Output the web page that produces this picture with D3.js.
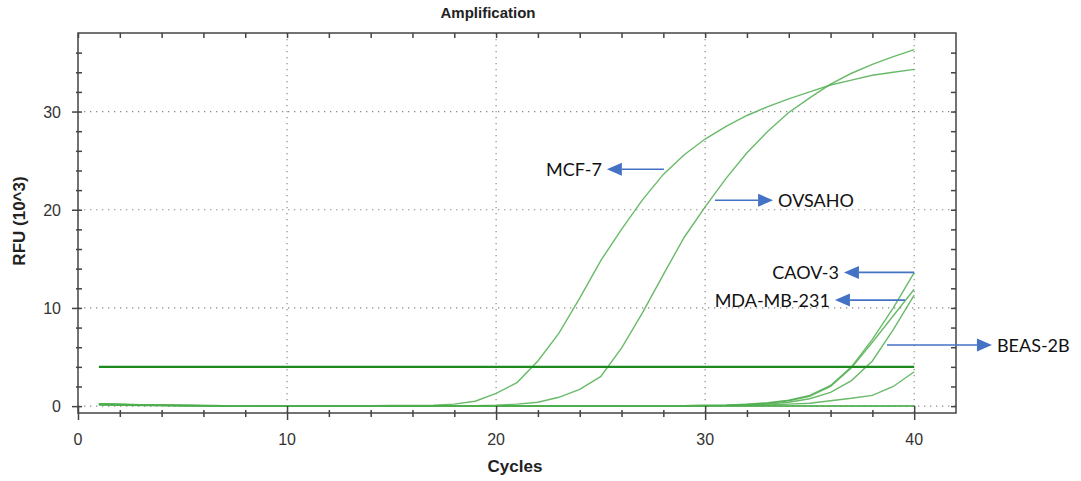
<!DOCTYPE html>
<html>
<head>
<meta charset="utf-8">
<script src="https://cdn.jsdelivr.net/npm/d3@7"></script>
<style>
body { margin: 0; background: #fff; }
text { font-family: "Liberation Sans", Arial, sans-serif; }
text.callout { font-family: Lato, "Open Sans", sans-serif; }
</style>
</head>
<body>
<svg id="chart"></svg>
<script>
// cycle numbers 1..40
let cycles = d3.range(1, 41)

// RFU (10^3) per cycle
let mcf7 = [0.25,0.2,0.15,0.1,0.08,0.06,0.05,0.05,0.04,0.04,0.04,0.04,0.05,0.05,0.06,0.08,
    0.1,0.2,0.5,1.3,2.4,4.6,7.4,11.0,14.8,18.0,21.0,23.6,25.6,27.2,28.5,29.6,30.5,31.3,32.0,32.7,33.2,33.7,34.0,34.3]
let ovsaho = [0.22,0.18,0.14,0.1,0.08,0.06,0.05,0.04,0.04,0.03,0.03,0.03,0.03,0.03,0.03,0.03,0.04,0.04,
    0.05,0.1,0.2,0.4,0.9,1.7,3.0,5.9,9.5,13.4,17.2,20.3,23.2,25.8,28.0,29.9,31.4,32.8,33.9,34.8,35.6,36.3]
let caov3 = [0.2,0.16,0.12,0.09,0.07,0.05,0.04,0.03,0.03,0.03,0.02,0.02,0.02,0.02,0.02,0.02,0.02,0.02,0.02,0.02,
    0.02,0.02,0.02,0.03,0.03,0.03,0.04,0.04,0.05,0.07,0.1,0.2,0.35,0.6,1.1,2.1,4.0,6.8,10.0,13.6]
let mdamb231 = [0.2,0.16,0.12,0.09,0.07,0.05,0.04,0.03,0.03,0.03,0.02,0.02,0.02,0.02,0.02,0.02,0.02,0.02,0.02,0.02,
    0.02,0.02,0.02,0.03,0.03,0.03,0.04,0.04,0.05,0.07,0.1,0.18,0.3,0.55,1.0,2.0,3.9,6.5,9.2,11.9]
let beas2b = [0.18,0.15,0.11,0.08,0.06,0.05,0.04,0.03,0.03,0.02,0.02,0.02,0.02,0.02,0.02,0.02,0.02,0.02,0.02,0.02,
    0.02,0.02,0.02,0.02,0.03,0.03,0.03,0.03,0.04,0.06,0.08,0.12,0.2,0.4,0.75,1.4,2.6,4.6,7.8,11.3]
let lowWell = [0.18,0.14,0.1,0.08,0.06,0.05,0.04,0.03,0.03,0.02,0.02,0.02,0.02,0.02,0.02,0.02,0.02,0.02,0.02,0.02,
    0.02,0.02,0.02,0.02,0.02,0.02,0.02,0.02,0.03,0.03,0.05,0.08,0.12,0.2,0.3,0.55,0.8,1.1,2.0,3.5]
let ntc1 = [0.15,0.12,0.09,0.07,0.05,0.04,0.03,0.03,0.02,0.02,0.02,0.02,0.02,0.02,0.02,0.02,0.02,0.02,0.02,0.02,
    0.02,0.02,0.02,0.02,0.02,0.02,0.02,0.02,0.02,0.02,0.02,0.02,0.02,0.02,0.02,0.02,0.02,0.02,0.02,0.02]
let ntc2 = [0.1,0.08,0.06,0.05,0.04,0.03,0.02,0.02,0.01,0.01,0.01,0.01,0.01,0.01,0.01,0.01,0.01,0.01,0.01,0.01,
    0.01,0.01,0.01,0.01,0.01,0.01,0.01,0.01,0.01,0.01,0.01,0.01,0.01,0.01,0.01,0.02,0.02,0.02,0.02,0.03]

let allSeries = [ntc1, ntc2, lowWell, beas2b, mdamb231, caov3, ovsaho, mcf7]

let thresholdRFU = 4
let thresholdCycles = [1, 40]

let xMajor = [0, 10, 20, 30, 40]
let yMajor = [0, 10, 20, 30]

// arrows: label, tail (cycle, RFU), head cycle
let annotLabels = ["MCF-7", "OVSAHO", "CAOV-3", "MDA-MB-231", "BEAS-2B"]
let annotFrom = [28.03, 30.47, 40.0, 39.56, 38.7]
let annotRFU = [24.13, 20.97, 13.62, 10.8, 6.22]
let annotTo = [25.3, 33.25, 36.64, 36.21, 43.72]

let width = 1081, height = 481
let plotLeft = 78, plotRight = 956, plotTop = 33, plotBottom = 413

let svg = d3.select("#chart")
    .attr("width", width)
    .attr("height", height)

let x = d3.scaleLinear().domain([0, 42]).range([plotLeft, plotRight])
let y = d3.scaleLinear().domain([-0.7, 38]).range([plotBottom, plotTop])

// dotted grid
let grid = svg.append("g")
    .attr("stroke", "#8a8a8a")
    .attr("stroke-width", 1.2)
    .attr("stroke-dasharray", "1.3,4.7")
grid.selectAll(".gx")
    .data(xMajor.filter(v => v > 0))
    .enter()
    .append("line")
    .attr("x1", d => x(d)).attr("x2", d => x(d))
    .attr("y1", plotTop).attr("y2", plotBottom)
grid.selectAll(".gy")
    .data(yMajor)
    .enter()
    .append("line")
    .attr("x1", plotLeft).attr("x2", plotRight)
    .attr("y1", d => y(d)).attr("y2", d => y(d))

// amplification curves
let line = d3.line()
    .x((d, i) => x(cycles[i]))
    .y(d => y(d))

svg.append("g")
    .selectAll("path")
    .data(allSeries)
    .enter()
    .append("path")
    .attr("d", d => line(d))
    .attr("fill", "none")
    .attr("stroke", "#4fae4f")
    .attr("stroke-opacity", 0.85)
    .attr("stroke-width", 1.4)

// threshold
svg.append("line")
    .attr("x1", x(thresholdCycles[0]))
    .attr("x2", x(thresholdCycles[1]))
    .attr("y1", y(thresholdRFU))
    .attr("y2", y(thresholdRFU))
    .attr("stroke", "#1d8a1d")
    .attr("stroke-width", 2.2)

// axes
let axisColor = "#444"
let styleAxis = (g) => {
    g.select(".domain").remove()
    g.selectAll(".tick line").attr("stroke", axisColor).attr("stroke-width", 1.5)
}

let xMinor = d3.range(0, 42, 2)
let yMinor = d3.range(0, 38, 2)

svg.append("g")
    .attr("transform", `translate(0,${plotBottom})`)
    .call(d3.axisBottom(x).tickValues(xMinor).tickSize(4).tickFormat(""))
    .call(styleAxis)
    .call(g => g.selectAll(".tick line").attr("y1", -3).attr("y2", d => xMajor.includes(d) ? 7 : 4))
    .call(g => g.selectAll(".tick").filter(d => xMajor.includes(d)).select("line").attr("y1", -7))

svg.append("g")
    .attr("transform", `translate(0,${plotTop})`)
    .call(d3.axisTop(x).tickValues(xMinor).tickSize(-5).tickFormat(""))
    .call(styleAxis)

svg.append("g")
    .attr("transform", `translate(${plotLeft},0)`)
    .call(d3.axisLeft(y).tickValues(yMinor).tickSize(3).tickFormat(""))
    .call(styleAxis)
    .call(g => g.selectAll(".tick line").attr("x1", 4).attr("x2", d => yMajor.includes(d) ? -6 : -2))

svg.append("g")
    .attr("transform", `translate(${plotRight},0)`)
    .call(d3.axisRight(y).tickValues(yMinor).tickSize(-5).tickFormat(""))
    .call(styleAxis)

// frame
svg.append("rect")
    .attr("x", plotLeft).attr("y", plotTop)
    .attr("width", plotRight - plotLeft).attr("height", plotBottom - plotTop)
    .attr("fill", "none")
    .attr("stroke", axisColor)
    .attr("stroke-width", 1.5)

// tick labels
svg.append("g")
    .selectAll("text")
    .data(xMajor)
    .enter()
    .append("text")
    .attr("x", d => x(d))
    .attr("y", 445)
    .attr("text-anchor", "middle")
    .attr("font-size", 16)
    .attr("fill", "#333")
    .text(d => d)

svg.append("g")
    .selectAll("text")
    .data(yMajor)
    .enter()
    .append("text")
    .attr("x", 61)
    .attr("y", d => y(d) + 6)
    .attr("text-anchor", "end")
    .attr("font-size", 16)
    .attr("fill", "#333")
    .text(d => d)

// titles
svg.append("text")
    .attr("x", 488).attr("y", 18)
    .attr("text-anchor", "middle")
    .attr("font-size", 15).attr("font-weight", "bold")
    .attr("fill", "#222")
    .text("Amplification")

svg.append("text")
    .attr("x", 515).attr("y", 472)
    .attr("text-anchor", "middle")
    .attr("font-size", 17).attr("font-weight", "bold")
    .attr("fill", "#222")
    .text("Cycles")

svg.append("text")
    .attr("transform", "translate(25,221) rotate(-90)")
    .attr("text-anchor", "middle")
    .attr("font-size", 17).attr("font-weight", "bold")
    .attr("fill", "#222")
    .text("RFU (10^3)")

// arrows with labels
let blue = "#4472c4"
let headLen = 15, headHalf = 6.5

let annot = svg.append("g")
    .selectAll("g")
    .data(annotLabels)
    .enter()
    .append("g")

annot.each(function (label, i) {
    let g = d3.select(this)
    let x0 = x(annotFrom[i]), x1 = x(annotTo[i]), yy = y(annotRFU[i])
    let dir = x1 > x0 ? 1 : -1
    g.append("line")
        .attr("x1", x0).attr("x2", x1 - dir * headLen)
        .attr("y1", yy).attr("y2", yy)
        .attr("stroke", blue).attr("stroke-width", 1.6)
    g.append("path")
        .attr("d", `M${x1},${yy} L${x1 - dir * headLen},${yy - headHalf} L${x1 - dir * headLen},${yy + headHalf} Z`)
        .attr("fill", blue)
    g.append("text")
        .attr("class", "callout")
        .attr("x", x1 + dir * 5)
        .attr("y", yy + 6.5)
        .attr("text-anchor", dir > 0 ? "start" : "end")
        .attr("font-size", 18)
        .attr("fill", "#111")
        .text(label)
})
</script>
</body>
</html>
